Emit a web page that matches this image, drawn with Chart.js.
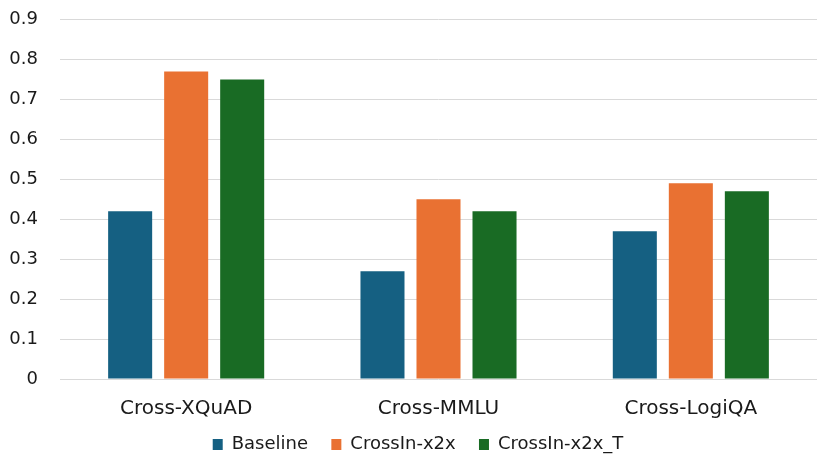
<!DOCTYPE html>
<html>
<head>
<meta charset="utf-8">
<script src="https://cdn.jsdelivr.net/npm/chart.js@4/dist/chart.umd.min.js"></script>
<style>
html,body{margin:0;padding:0;background:#fff;}
#wrap{width:830px;height:467px;position:relative;}
</style>
</head>
<body>
<div id="wrap"><canvas id="c"></canvas></div>
<script>
const categories = ["Cross-XQuAD", "Cross-MMLU", "Cross-LogiQA"];
const seriesNames = ["Baseline", "CrossIn-x2x", "CrossIn-x2x_T"];
const baseline = [0.42, 0.27, 0.37];
const crossInX2x = [0.77, 0.45, 0.49];
const crossInX2xT = [0.75, 0.42, 0.47];
const yTicks = [0, 0.1, 0.2, 0.3, 0.4, 0.5, 0.6, 0.7, 0.8, 0.9];
const colors = ["#156082", "#E97132", "#196B24"];

const FONT = "'DejaVu Sans', sans-serif";
const mk = (i, data) => ({
  label: seriesNames[i],
  data: data,
  backgroundColor: colors[i],
  borderWidth: 0,
  categoryPercentage: 0.666,
  barPercentage: 0.786
});

new Chart(document.getElementById('c'), {
  type: 'bar',
  data: {
    labels: categories,
    datasets: [mk(0, baseline), mk(1, crossInX2x), mk(2, crossInX2xT)]
  },
  options: {
    responsive: true,
    maintainAspectRatio: false,
    animation: false,
    devicePixelRatio: 1,
    layout: { padding: { left: 19, right: 13, top: 19.5, bottom: 3.5 } },
    plugins: {
      legend: {
        position: 'bottom',
        labels: {
          boxWidth: 10,
          boxHeight: 11,
          padding: 14,
          color: '#1a1a1a',
          font: { family: FONT, size: 18 },
          generateLabels: (chart) => {
            const items = Chart.defaults.plugins.legend.labels.generateLabels(chart);
            items.forEach((it, i) => { if (i < items.length - 1) it.text = it.text + ' \u2009'; });
            return items;
          }
        }
      },
      tooltip: { enabled: false }
    },
    scales: {
      x: {
        grid: { display: false, drawTicks: false },
        border: { display: false },
        afterFit: (s) => { s.height = 42.5; s.paddingLeft = 0; s.paddingRight = 0; },
        ticks: { color: '#1a1a1a', padding: 17.5, font: { family: FONT, size: 20 } }
      },
      y: {
        min: 0,
        max: 0.9,
        afterBuildTicks: (s) => { s.ticks = yTicks.map(v => ({ value: v })); },
        afterFit: (s) => {
          s.width = 41; s.paddingTop = 0; s.paddingBottom = 0;
          s._computeLabelArea = () => undefined;
        },
        grid: { color: '#d9d9d9', lineWidth: 1, drawTicks: false },
        border: { display: false },
        ticks: {
          color: '#1a1a1a',
          padding: 22,
          font: { family: FONT, size: 18 },
          callback: (v) => String(Math.round(v * 10) / 10)
        }
      }
    }
  }
});
</script>
</body>
</html>
